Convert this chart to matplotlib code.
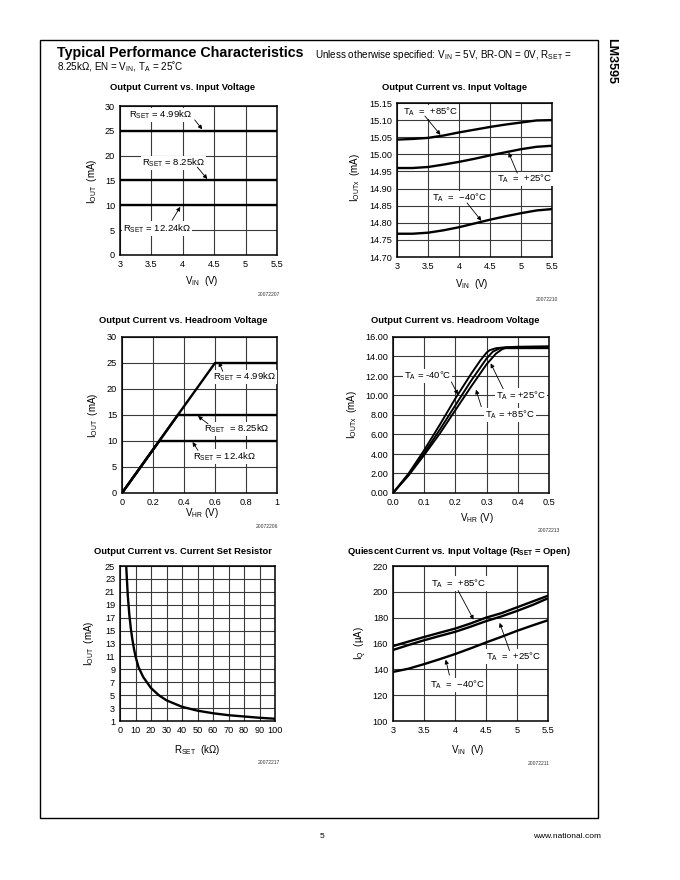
import matplotlib
matplotlib.use('Agg')
import matplotlib.pyplot as plt
from matplotlib.patches import Rectangle

plt.rcParams['font.family'] = ['Liberation Sans', 'DejaVu Sans']
plt.rcParams['mathtext.default'] = 'regular'

W, H = 680.0, 880.0

# --- data ---
# panel 1: Iout vs Vin for three Rset values
vin_1 = [3.0, 3.5, 4.0, 4.5, 5.0, 5.5]
iout_4k99 = [25, 25, 25, 25, 25, 25]
iout_8k25 = [15, 15, 15, 15, 15, 15]
iout_12k24 = [10, 10, 10, 10, 10, 10]

# panel 2: Iout vs Vin over temperature
vin_2 = [3.0, 3.25, 3.5, 3.75, 4.0, 4.25, 4.5, 4.75, 5.0, 5.25, 5.5]
iout_t85 = [15.043, 15.045, 15.048, 15.055, 15.064, 15.072, 15.080, 15.087, 15.093, 15.099, 15.100]
iout_t25 = [14.960, 14.960, 14.963, 14.970, 14.978, 14.987, 14.997, 15.006, 15.015, 15.022, 15.025]
iout_tm40 = [14.768, 14.768, 14.771, 14.778, 14.787, 14.798, 14.809, 14.819, 14.828, 14.836, 14.840]

# panel 3: Iout vs headroom voltage
vhr_4k99 = [0.0, 0.6, 1.0]
ihr_4k99 = [0, 25, 25]
vhr_8k25 = [0.0, 0.36, 1.0]
ihr_8k25 = [0, 15, 15]
vhr_12k4 = [0.0, 0.24, 1.0]
ihr_12k4 = [0, 10, 10]

# panel 4: Iout vs headroom voltage over temperature
vhr_tm40 = [0, 0.05, 0.1, 0.15, 0.2, 0.25, 0.28, 0.3, 0.31, 0.33, 0.36, 0.4, 0.5]
ihr_tm40 = [0, 2.0, 4.4, 7.0, 9.7, 12.2, 13.6, 14.4, 14.65, 14.85, 14.95, 15.0, 15.05]
vhr_t25 = [0, 0.05, 0.1, 0.15, 0.2, 0.25, 0.3, 0.32, 0.34, 0.36, 0.4, 0.5]
ihr_t25 = [0, 1.9, 4.1, 6.5, 9.0, 11.5, 13.8, 14.5, 14.8, 14.9, 14.95, 14.95]
vhr_t85 = [0, 0.05, 0.1, 0.15, 0.2, 0.25, 0.3, 0.33, 0.35, 0.36, 0.4, 0.5]
ihr_t85 = [0, 1.8, 3.9, 6.1, 8.5, 10.9, 13.2, 14.3, 14.75, 14.85, 14.85, 14.85]

# panel 5: Iout vs Rset
rset = [4, 5, 6, 7, 8, 9, 10, 12, 15, 20, 25, 30, 40, 50, 60, 70, 80, 90, 100]
iout_r = [25, 20.5, 17.5, 15.3, 13.6, 12.2, 11, 9.3, 7.8, 6.1, 5.0, 4.2, 3.2, 2.6, 2.2, 1.9, 1.7, 1.5, 1.35]

# panel 6: quiescent current vs Vin
vin_6 = [3.0, 3.25, 3.5, 3.75, 4.0, 4.25, 4.5, 4.75, 5.0, 5.25, 5.5]
iq_t85 = [158, 161.5, 165, 168.3, 171.5, 175.5, 180, 183.5, 188, 192.5, 197]
iq_t25 = [155, 158.8, 162.5, 165.8, 169, 173, 177.3, 181, 185.2, 189.8, 195]
iq_tm40 = [138, 140.5, 144, 147.8, 151.8, 156.2, 160.8, 165.2, 169.8, 174, 178]


def rect(l, t, r, b):
    return [l / W, 1 - b / H, (r - l) / W, (b - t) / H]


def ftext(x, y, s, **kw):
    fig.text(x / W, 1 - y / H, s, **kw)


def setup(ax, xlim, ylim, xt, yt, xfmt, yfmt):
    ax.set_xlim(xlim)
    ax.set_ylim(ylim)
    ax.set_xticks(xt)
    ax.set_yticks(yt)
    ax.set_xticklabels([xfmt(v) for v in xt])
    ax.set_yticklabels([yfmt(v) for v in yt])
    ax.tick_params(length=0, labelsize=6.6, pad=3.5)
    ax.grid(True, color='#3a3a3a', lw=0.8)
    ax.set_axisbelow(True)
    for s in ax.spines.values():
        s.set_linewidth(1.1)


def label(ax, x, y, s):
    ax.text(x, y, s, fontsize=6.8, ha='left', va='center',
            bbox=dict(fc='white', ec='none', pad=0.8), zorder=3)


def arrow(ax, tail, head):
    ax.annotate('', xy=head, xytext=tail, zorder=4,
                arrowprops=dict(arrowstyle='-|>', lw=0.6, color='black',
                                mutation_scale=6, shrinkA=0, shrinkB=0))


def g(v):
    return '%g' % v


fig = plt.figure(figsize=(6.8, 8.8), dpi=100)

# page frame
fig.add_artist(Rectangle((40 / W, 1 - 818 / H), 558 / W, 778 / H, transform=fig.transFigure,
                         fill=False, ec='black', lw=1.0))
ftext(611, 38, 'LM3595', rotation=-90, ha='center', va='top', fontsize=9, fontweight='bold')
ftext(57, 57, 'Typical Performance Characteristics', fontsize=10.3, fontweight='bold',
      ha='left', va='baseline')
ftext(315, 58, r'Unless otherwise specified: V$_{IN}$ = 5V, BR-ON = 0V, R$_{SET}$ =',
      fontsize=7.1, ha='left', va='baseline')
ftext(57, 70, r'8.25kΩ, EN = V$_{IN}$, T$_A$ = 25˚C', fontsize=7.1, ha='left', va='baseline')
ftext(322, 836, '5', fontsize=6, ha='center', va='center')
ftext(601, 836, 'www.national.com', fontsize=6, ha='right', va='center')

lw = 1.7
tfs = 6.75  # panel title size
afs = 7.0  # axis label size

# panel 1
ax1 = fig.add_axes(rect(120, 106, 277, 255))
setup(ax1, (3, 5.5), (0, 30), [3, 3.5, 4, 4.5, 5, 5.5], [0, 5, 10, 15, 20, 25, 30], g, g)
ax1.plot(vin_1, iout_4k99, color='black', lw=lw)
ax1.plot(vin_1, iout_8k25, color='black', lw=lw)
ax1.plot(vin_1, iout_12k24, color='black', lw=lw)
label(ax1, 3.15, 28.2, r'R$_{SET}$ = 4.99kΩ')
arrow(ax1, (4.19, 27.2), (4.31, 25.3))
label(ax1, 3.35, 18.5, r'R$_{SET}$ = 8.25kΩ')
arrow(ax1, (4.23, 17.7), (4.39, 15.3))
label(ax1, 3.05, 5.3, r'R$_{SET}$ = 12.24kΩ')
arrow(ax1, (3.83, 7.0), (3.96, 9.7))
ftext(183, 90, 'Output Current vs. Input Voltage', fontsize=tfs, fontweight='bold', ha='center', va='baseline')
ftext(92, 181, r'I$_{OUT}$  (mA)', fontsize=afs, rotation=90, ha='center', va='center')
ftext(202, 281, r'V$_{IN}$  (V)', fontsize=afs, ha='center', va='center')
ftext(280, 295, '20072207', fontsize=3.6, ha='right', va='center', color='#333333')

# panel 2
ax2 = fig.add_axes(rect(397, 103, 552, 257))
yt2 = [14.70, 14.75, 14.80, 14.85, 14.90, 14.95, 15.00, 15.05, 15.10, 15.15]
setup(ax2, (3, 5.5), (14.70, 15.15), [3, 3.5, 4, 4.5, 5, 5.5], yt2, g, lambda v: '%.2f' % v)
ax2.plot(vin_2, iout_t85, color='black', lw=lw)
ax2.plot(vin_2, iout_t25, color='black', lw=lw)
ax2.plot(vin_2, iout_tm40, color='black', lw=lw)
label(ax2, 3.1, 15.124, 'T$_A$  =  +85°C')
arrow(ax2, (3.45, 15.112), (3.7, 15.057))
label(ax2, 4.61, 14.928, 'T$_A$  =  +25°C')
arrow(ax2, (4.94, 14.945), (4.8, 15.005))
label(ax2, 3.56, 14.872, 'T$_A$  =  −40°C')
arrow(ax2, (4.13, 14.858), (4.36, 14.806))
ftext(455, 90, 'Output Current vs. Input Voltage', fontsize=tfs, fontweight='bold', ha='center', va='baseline')
ftext(355, 178, r'I$_{OUTx}$  (mA)', fontsize=afs, rotation=90, ha='center', va='center')
ftext(472, 284, r'V$_{IN}$  (V)', fontsize=afs, ha='center', va='center')
ftext(558, 299, '20072210', fontsize=3.6, ha='right', va='center', color='#333333')

# panel 3
ax3 = fig.add_axes(rect(122, 337, 277, 493))
setup(ax3, (0, 1), (0, 30), [0, 0.2, 0.4, 0.6, 0.8, 1], [0, 5, 10, 15, 20, 25, 30], g, g)
ax3.plot(vhr_4k99, ihr_4k99, color='black', lw=lw)
ax3.plot(vhr_8k25, ihr_8k25, color='black', lw=lw)
ax3.plot(vhr_12k4, ihr_12k4, color='black', lw=lw)
label(ax3, 0.59, 22.3, r'R$_{SET}$ = 4.99kΩ')
arrow(ax3, (0.65, 23.4), (0.625, 25.2))
label(ax3, 0.53, 12.3, r'R$_{SET}$  = 8.25kΩ')
arrow(ax3, (0.555, 13.3), (0.49, 14.8))
label(ax3, 0.46, 7.0, r'R$_{SET}$ = 12.4kΩ')
arrow(ax3, (0.49, 8.2), (0.455, 9.8))
ftext(183, 323, 'Output Current vs. Headroom Voltage', fontsize=tfs, fontweight='bold', ha='center', va='baseline')
ftext(93, 415, r'I$_{OUT}$  (mA)', fontsize=afs, rotation=90, ha='center', va='center')
ftext(202, 513, r'V$_{HR}$ (V)', fontsize=afs, ha='center', va='center')
ftext(278, 526, '20072206', fontsize=3.6, ha='right', va='center', color='#333333')

# panel 4
ax4 = fig.add_axes(rect(393, 337, 549, 493))
setup(ax4, (0, 0.5), (0, 16), [0, 0.1, 0.2, 0.3, 0.4, 0.5], [0, 2, 4, 6, 8, 10, 12, 14, 16],
      lambda v: '%.1f' % v, lambda v: '%.2f' % v)
ax4.plot(vhr_tm40, ihr_tm40, color='black', lw=1.4)
ax4.plot(vhr_t25, ihr_t25, color='black', lw=1.4)
ax4.plot(vhr_t85, ihr_t85, color='black', lw=1.4)
label(ax4, 0.035, 12.0, 'T$_A$ = -40°C')
arrow(ax4, (0.187, 11.4), (0.208, 10.1))
label(ax4, 0.33, 10.0, 'T$_A$ = +25°C')
arrow(ax4, (0.353, 10.7), (0.313, 13.3))
label(ax4, 0.295, 8.0, 'T$_A$ = +85°C')
arrow(ax4, (0.283, 8.85), (0.266, 10.6))
ftext(455, 323, 'Output Current vs. Headroom Voltage', fontsize=tfs, fontweight='bold', ha='center', va='baseline')
ftext(352, 415, r'I$_{OUTx}$  (mA)', fontsize=afs, rotation=90, ha='center', va='center')
ftext(477, 518, r'V$_{HR}$ (V)', fontsize=afs, ha='center', va='center')
ftext(560, 530, '20072213', fontsize=3.6, ha='right', va='center', color='#333333')

# panel 5
ax5 = fig.add_axes(rect(120, 566, 275, 721))
setup(ax5, (0, 100), (1, 25), list(range(0, 101, 10)), list(range(1, 26, 2)), g, g)
ax5.plot(rset, iout_r, color='black', lw=lw)
ftext(183, 554, 'Output Current vs. Current Set Resistor', fontsize=tfs, fontweight='bold', ha='center', va='baseline')
ftext(89, 643, r'I$_{OUT}$  (mA)', fontsize=afs, rotation=90, ha='center', va='center')
ftext(197, 750, r'R$_{SET}$  (kΩ)', fontsize=afs, ha='center', va='center')
ftext(280, 762, '20072217', fontsize=3.6, ha='right', va='center', color='#333333')

# panel 6
ax6 = fig.add_axes(rect(393, 566, 548, 721))
setup(ax6, (3, 5.5), (100, 220), [3, 3.5, 4, 4.5, 5, 5.5], [100, 120, 140, 160, 180, 200, 220], g, g)
ax6.plot(vin_6, iq_t85, color='black', lw=lw)
ax6.plot(vin_6, iq_t25, color='black', lw=lw)
ax6.plot(vin_6, iq_tm40, color='black', lw=lw)
label(ax6, 3.62, 206.5, 'T$_A$  =  +85°C')
arrow(ax6, (4.05, 201), (4.3, 178.5))
label(ax6, 4.5, 149.7, 'T$_A$  =  +25°C')
arrow(ax6, (4.88, 154.5), (4.72, 176))
label(ax6, 3.59, 127.8, 'T$_A$  =  −40°C')
arrow(ax6, (3.91, 135.5), (3.85, 147.5))
ftext(459, 554, r'Quiescent Current vs. Input Voltage (R$_{SET}$ = Open)', fontsize=tfs, fontweight='bold',
      ha='center', va='baseline')
ftext(361, 643, r'I$_Q$  (µA)', fontsize=afs, rotation=90, ha='center', va='center')
ftext(468, 750, r'V$_{IN}$  (V)', fontsize=afs, ha='center', va='center')
ftext(550, 763, '20072211', fontsize=3.6, ha='right', va='center', color='#333333')

fig.savefig('out.png', dpi=100)
